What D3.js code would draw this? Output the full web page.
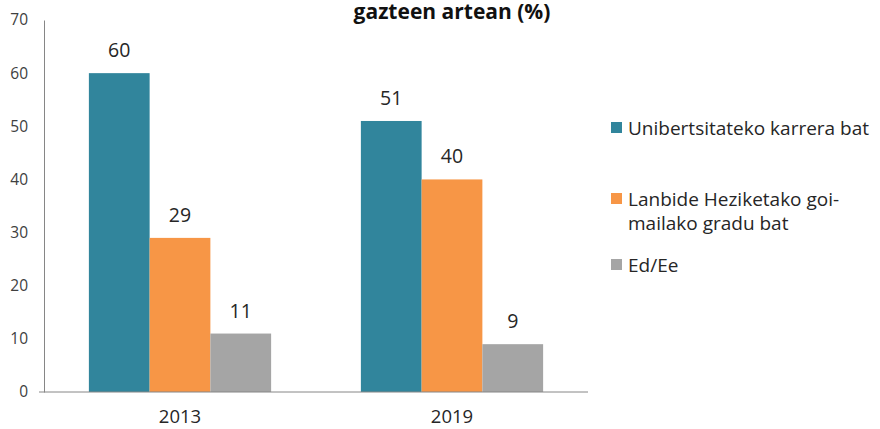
<!DOCTYPE html>
<html>
<head>
<meta charset="utf-8">
<script src="https://cdn.jsdelivr.net/npm/d3@7"></script>
<style>
  body { margin: 0; background: #fff; }
  svg { display: block; font-family: "Open Sans", "Noto Sans", sans-serif; }
</style>
</head>
<body>
<div id="chart"></div>
<script>
// data
const years = ["2013", "2019"];
const seriesNames = ["Unibertsitateko karrera bat", "Lanbide Heziketako goi-mailako gradu bat", "Ed/Ee"];
const university = [60, 51];
const vocational = [29, 40];
const dontKnow = [11, 9];
const yTicks = [0, 10, 20, 30, 40, 50, 60, 70];
const titleText = "gazteen artean (%)";

const colors = ["#31859C", "#F79646", "#A5A5A5"];
const legendLines = [["Unibertsitateko karrera bat"], ["Lanbide Heziketako goi-", "mailako gradu bat"], ["Ed/Ee"]];

let rows = years.map((y, i) => ({year: y, values: [university[i], vocational[i], dontKnow[i]]}));

let width = 880, height = 429;
let margin = {top: 20, right: 292, bottom: 37, left: 44};

let svg = d3.select("#chart").append("svg")
    .attr("width", width)
    .attr("height", height);

//scales
let x0 = d3.scaleBand()
    .domain(years)
    .range([margin.left, width - margin.right])
    .paddingInner(0.33)
    .paddingOuter(0.165);

let x1 = d3.scaleBand()
    .domain([0, 1, 2])
    .range([0, x0.bandwidth()]);

let y = d3.scaleLinear()
    .domain([0, 70])
    .range([height - margin.bottom, margin.top]);

//y axis: labels only plus a line
let yAxis = svg.append("g")
    .attr("transform", `translate(${margin.left},0)`)
    .call(d3.axisLeft(y).tickValues(yTicks).tickSize(0).tickPadding(16))
    .attr("font-family", null)
    .attr("font-size", null);
yAxis.select(".domain").attr("stroke", "#868686");
yAxis.selectAll("text").style("font-size", "15.5px").attr("fill", "#404040");

//bars
let groups = svg.append("g")
    .selectAll("g")
    .data(rows)
    .enter()
    .append("g")
    .attr("transform", d => `translate(${x0(d.year)},0)`);

groups.selectAll("rect")
    .data(d => d.values)
    .enter()
    .append("rect")
    .attr("x", (d, i) => x1(i))
    .attr("width", x1.bandwidth())
    .attr("y", d => y(d))
    .attr("height", d => y(0) - y(d))
    .attr("fill", (d, i) => colors[i]);

//value labels
groups.selectAll("text.val")
    .data(d => d.values)
    .enter()
    .append("text")
    .attr("class", "val")
    .attr("x", (d, i) => x1(i) + x1.bandwidth() / 2)
    .attr("y", d => y(d) - 16)
    .attr("text-anchor", "middle")
    .style("font-size", "19.5px")
    .attr("fill", "#262626")
    .text(d => d);

//x axis
let xAxis = svg.append("g")
    .attr("transform", `translate(0,${y(0)})`)
    .call(d3.axisBottom(x0).tickSize(0).tickPadding(15))
    .attr("font-family", null)
    .attr("font-size", null);
xAxis.select(".domain").attr("stroke", "#868686").attr("d", `M${margin.left - 5},0H${width - margin.right}`);
xAxis.selectAll("text").style("font-size", "18.5px").attr("fill", "#262626").attr("dy", "0.85em");

//title (top line cut off in the original)
svg.append("text")
    .attr("x", 452)
    .attr("y", 19)
    .attr("text-anchor", "middle")
    .style("font-size", "21px")
    .attr("font-weight", "bold")
    .attr("fill", "#111")
    .text(titleText);

//legend
let legendY = [128, 199, 265];
let legend = svg.append("g")
    .selectAll("g")
    .data(seriesNames)
    .enter()
    .append("g")
    .attr("transform", (d, i) => `translate(611,${legendY[i]})`);

legend.append("rect")
    .attr("x", 0)
    .attr("y", -6)
    .attr("width", 11)
    .attr("height", 11)
    .attr("fill", (d, i) => colors[i]);

legend.append("text")
    .attr("x", 17)
    .attr("y", 0)
    .style("font-size", "19px")
    .attr("fill", "#262626")
    .selectAll("tspan")
    .data((d, i) => legendLines[i])
    .enter()
    .append("tspan")
    .attr("x", 17)
    .attr("dy", (d, j) => j === 0 ? "0.35em" : "1.3em")
    .text(d => d);
</script>
</body>
</html>
